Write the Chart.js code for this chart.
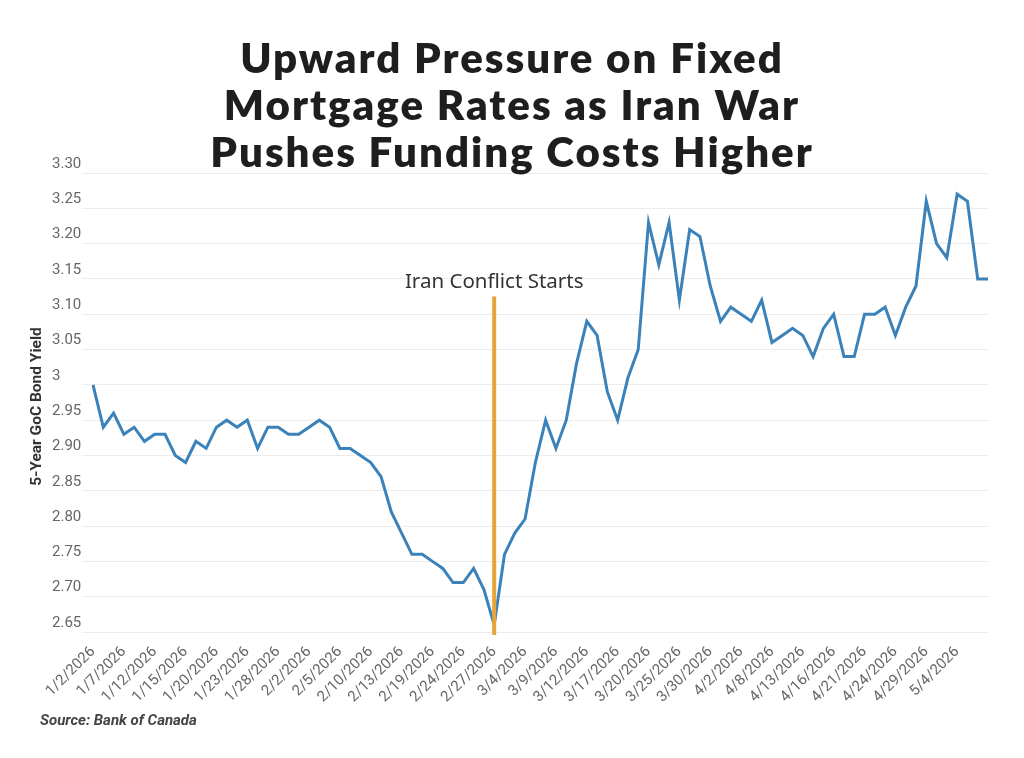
<!DOCTYPE html>
<html>
<head>
<meta charset="utf-8">
<script src="https://cdn.jsdelivr.net/npm/chart.js@4.4.1/dist/chart.umd.min.js"></script>
<style>
  body { margin: 0; background: #fff; }
  #wrap { position: relative; width: 1024px; height: 758px; overflow: hidden; }
  #title {
    position: absolute; top: 34px; left: 0; width: 1024px;
    text-align: center; font-family: Lato, sans-serif; font-weight: 800;
    font-size: 42px; line-height: 47px; color: #1e1e1e; letter-spacing: 2px;
  }
  #source {
    position: absolute; left: 40px; top: 711px;
    font-family: Roboto, sans-serif; font-weight: 700; font-style: italic;
    font-size: 15px; color: #444;
  }
  #chart { position: absolute; left: 0; top: 0; }
</style>
</head>
<body>
<div id="wrap">
  <canvas id="chart" width="1024" height="758"></canvas>
  <div id="title">Upward Pressure on Fixed<br>Mortgage Rates as Iran War<br>Pushes Funding Costs Higher</div>
  <div id="source">Source: Bank of Canada</div>
</div>
<script>
// business days, Jan 2 - May 7 2026
const dates = [
  '1/2/2026', '1/5/2026', '1/6/2026', '1/7/2026', '1/8/2026', '1/9/2026', '1/12/2026', '1/13/2026',
  '1/14/2026', '1/15/2026', '1/16/2026', '1/19/2026', '1/20/2026', '1/21/2026', '1/22/2026', '1/23/2026',
  '1/26/2026', '1/27/2026', '1/28/2026', '1/29/2026', '1/30/2026', '2/2/2026', '2/3/2026', '2/4/2026',
  '2/5/2026', '2/6/2026', '2/9/2026', '2/10/2026', '2/11/2026', '2/12/2026', '2/13/2026', '2/17/2026',
  '2/18/2026', '2/19/2026', '2/20/2026', '2/23/2026', '2/24/2026', '2/25/2026', '2/26/2026', '2/27/2026',
  '3/2/2026', '3/3/2026', '3/4/2026', '3/5/2026', '3/6/2026', '3/9/2026', '3/10/2026', '3/11/2026',
  '3/12/2026', '3/13/2026', '3/16/2026', '3/17/2026', '3/18/2026', '3/19/2026', '3/20/2026', '3/23/2026',
  '3/24/2026', '3/25/2026', '3/26/2026', '3/27/2026', '3/30/2026', '3/31/2026', '4/1/2026', '4/2/2026',
  '4/6/2026', '4/7/2026', '4/8/2026', '4/9/2026', '4/10/2026', '4/13/2026', '4/14/2026', '4/15/2026',
  '4/16/2026', '4/17/2026', '4/20/2026', '4/21/2026', '4/22/2026', '4/23/2026', '4/24/2026', '4/27/2026',
  '4/28/2026', '4/29/2026', '4/30/2026', '5/1/2026', '5/4/2026', '5/5/2026', '5/6/2026', '5/7/2026'
];

// dates that get a tick label on the x axis
const tickDates = [
  '1/2/2026', '1/7/2026', '1/12/2026', '1/15/2026', '1/20/2026', '1/23/2026', '1/28/2026', '2/2/2026',
  '2/5/2026', '2/10/2026', '2/13/2026', '2/19/2026', '2/24/2026', '2/27/2026', '3/4/2026', '3/9/2026',
  '3/12/2026', '3/17/2026', '3/20/2026', '3/25/2026', '3/30/2026', '4/2/2026', '4/8/2026', '4/13/2026',
  '4/16/2026', '4/21/2026', '4/24/2026', '4/29/2026', '5/4/2026'
];

const yields = [
  3.00, 2.94, 2.96, 2.93, 2.94, 2.92, 2.93, 2.93, 2.90, 2.89,
  2.92, 2.91, 2.94, 2.95, 2.94, 2.95, 2.91, 2.94, 2.94, 2.93,
  2.93, 2.94, 2.95, 2.94, 2.91, 2.91, 2.90, 2.89, 2.87, 2.82,
  2.79, 2.76, 2.76, 2.75, 2.74, 2.72, 2.72, 2.74, 2.71, 2.66,
  2.76, 2.79, 2.81, 2.89, 2.95, 2.91, 2.95, 3.03, 3.09, 3.07,
  2.99, 2.95, 3.01, 3.05, 3.23, 3.17, 3.23, 3.12, 3.22, 3.21,
  3.14, 3.09, 3.11, 3.10, 3.09, 3.12, 3.06, 3.07, 3.08, 3.07,
  3.04, 3.08, 3.10, 3.04, 3.04, 3.10, 3.10, 3.11, 3.07, 3.11,
  3.14, 3.26, 3.20, 3.18, 3.27, 3.26, 3.15, 3.15
];

const yMin = 2.65;
const yMax = 3.30;
const yStep = 0.05;

// annotation
const conflictDate = '2/27/2026';
const conflictTop = 3.125;
const conflictLabel = 'Iran Conflict Starts';
const yTitle = '5-Year GoC Bond Yield';

const extras = {
  id: 'extras',
  afterDatasetsDraw(chart) {
    const ctx = chart.ctx;
    const x = chart.scales.x.getPixelForValue(dates.indexOf(conflictDate));
    const top = chart.scales.y.getPixelForValue(conflictTop);
    const area = chart.chartArea;
    ctx.save();
    ctx.strokeStyle = '#E8A33A';
    ctx.lineWidth = 4;
    ctx.beginPath();
    ctx.moveTo(x, top);
    ctx.lineTo(x, area.bottom + 3);
    ctx.stroke();

    ctx.fillStyle = '#333';
    ctx.font = '20.5px "Noto Sans", sans-serif';
    ctx.textAlign = 'center';
    ctx.textBaseline = 'alphabetic';
    ctx.fillText(conflictLabel, x, top - 9);

    // y axis title
    ctx.translate(37, (area.top + area.bottom) / 2 + 4);
    ctx.rotate(-Math.PI / 2);
    ctx.font = 'bold 15.5px Roboto, sans-serif';
    ctx.fillStyle = '#333';
    ctx.textBaseline = 'middle';
    ctx.fillText(yTitle, 0, 0);
    ctx.restore();
  }
};

new Chart(document.getElementById('chart'), {
  type: 'line',
  data: {
    labels: dates,
    datasets: [{
      data: yields,
      borderColor: '#3A82B9',
      borderWidth: 3,
      pointRadius: 0,
      tension: 0,
      fill: false
    }]
  },
  options: {
    responsive: false,
    animation: false,
    layout: { padding: { left: 52, right: 36, top: 173, bottom: 50 } },
    plugins: {
      legend: { display: false },
      tooltip: { enabled: false }
    },
    scales: {
      x: {
        offset: false,
        grid: { display: false },
        border: { display: false },
        afterFit(scale) { scale.height = 76; },
        ticks: {
          autoSkip: false,
          minRotation: 45,
          maxRotation: 45,
          padding: 3,
          color: '#666',
          font: { family: 'Roboto', size: 15 },
          callback: (v, i) => (tickDates.includes(dates[i]) ? dates[i] : '')
        }
      },
      y: {
        min: yMin,
        max: yMax,
        border: { display: false },
        grid: { color: '#ececec', lineWidth: 1, drawTicks: true, tickLength: 11 },
        afterFit(scale) { scale.width = 41; },
        ticks: {
          stepSize: yStep,
          crossAlign: 'far',
          labelOffset: -9,
          color: '#666',
          font: { family: 'Roboto', size: 15 },
          callback: v => (Math.abs(v - 3) < 1e-9 ? '3' : v.toFixed(2))
        }
      }
    }
  },
  plugins: [extras]
});
</script>
</body>
</html>
